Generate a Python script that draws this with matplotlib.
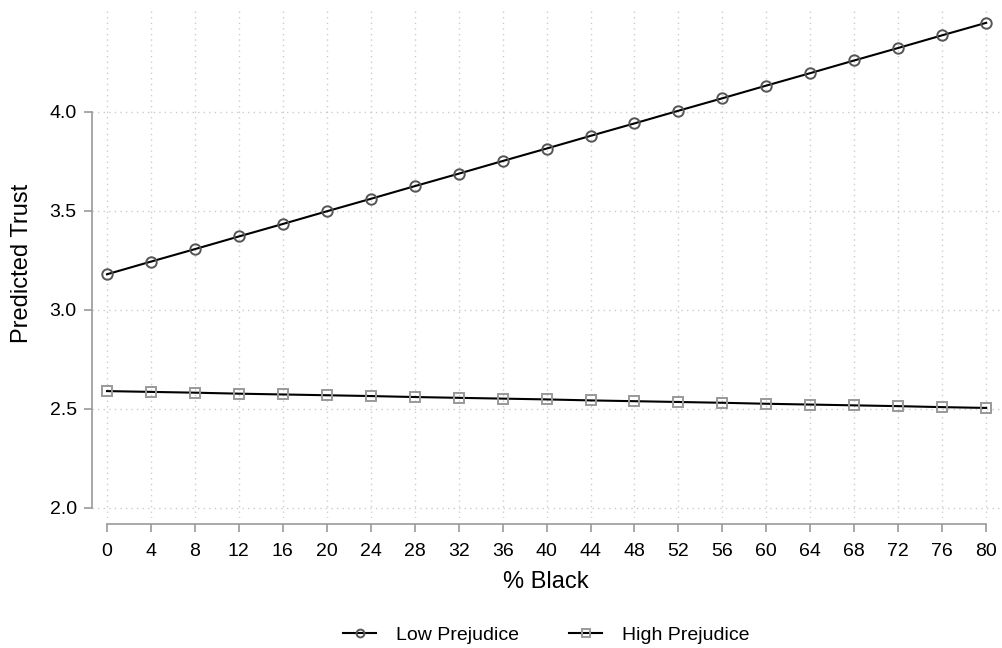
import numpy as np
import matplotlib.pyplot as plt

plt.rcParams['font.family'] = ['Liberation Sans', 'DejaVu Sans']

pct_black = [0, 4, 8, 12, 16, 20, 24, 28, 32, 36, 40, 44, 48, 52, 56, 60, 64, 68, 72, 76, 80]
low_prej = [3.180, 3.244, 3.307, 3.371, 3.434, 3.498, 3.561, 3.625, 3.688, 3.752, 3.815,
            3.879, 3.942, 4.006, 4.069, 4.133, 4.196, 4.260, 4.323, 4.387, 4.450]
high_prej = [2.590, 2.586, 2.582, 2.577, 2.573, 2.569, 2.565, 2.560, 2.556, 2.552, 2.548,
             2.543, 2.539, 2.535, 2.531, 2.526, 2.522, 2.518, 2.514, 2.509, 2.505]
y_ticks = [2.0, 2.5, 3.0, 3.5, 4.0]

fig = plt.figure(figsize=(10.02, 6.48), dpi=100)
ax = fig.add_axes([0.0918, 0.2006, 0.9062, 0.7871])

ax.plot(pct_black, low_prej, color="black", lw=1.5, marker="o", ms=7.5,
        mfc="none", mec="#555555", mew=1.4, label="Low Prejudice", zorder=3)
ax.plot(pct_black, high_prej, color="black", lw=1.5, marker="s", ms=7.5,
        mfc="none", mec="#999999", mew=1.4, label="High Prejudice", zorder=3)

ax.set_xlim(-1.365, 81.26)
ax.set_ylim(1.949, 4.525)
ax.set_xticks(pct_black)
ax.set_yticks(y_ticks)
ax.set_yticklabels([f"{v:.1f}" for v in y_ticks])

ax.grid(True, color="#cccccc", linestyle=(0, (1, 3)), lw=1)

for s in ["top", "right"]:
    ax.spines[s].set_visible(False)
ax.spines["left"].set_bounds(2.0, 4.0)
ax.spines["bottom"].set_bounds(0, 80)
ax.spines["bottom"].set_position(("outward", 4))
for s in ["left", "bottom"]:
    ax.spines[s].set_color("#999999")
    ax.spines[s].set_linewidth(1.2)

ax.tick_params(axis="both", colors="#999999", labelcolor="black", labelsize=14,
               length=6, width=1.2)
ax.tick_params(axis="x", pad=8)
ax.tick_params(axis="y", pad=5)

ax.set_xlabel("% Black", fontsize=17, labelpad=8)
ax.set_ylabel("Predicted Trust", fontsize=17, labelpad=12)

fig.legend(loc="lower center", bbox_to_anchor=(0.545, -0.012), ncol=2, frameon=False,
           fontsize=14, handlelength=1.7, handletextpad=1.0, columnspacing=2.6,
           markerscale=0.75, borderaxespad=0.2)

fig.savefig("out.png", dpi=100)
